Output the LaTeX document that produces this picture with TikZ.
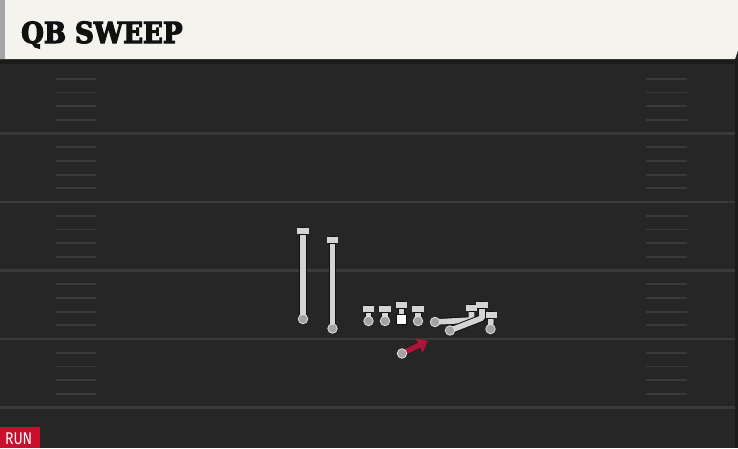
\documentclass[tikz,border=0pt]{standalone}
\usepackage{fontspec}
\usetikzlibrary{arrows.meta}
\newfontfamily\titlefont{DejaVu Serif Condensed Bold}[FakeBold=4]
\newfontfamily\tagfont{Fira Sans}
\definecolor{paper}{HTML}{F5F3EE}
\definecolor{turf}{HTML}{262626}
\definecolor{turfedge}{HTML}{1B1B1B}
\definecolor{yardline}{HTML}{3A3A3A}
\definecolor{playergray}{HTML}{D4D4D4}
\definecolor{dotgray}{HTML}{A2A2A2}
\definecolor{outline}{HTML}{111111}
\definecolor{runred}{HTML}{A8173A}
\definecolor{tagred}{HTML}{C8102E}
\tikzset{
  yard/.style={draw=yardline,line width=2.2pt},
  hash/.style={draw=yardline,line width=1.8pt},
  route/.style={draw=playergray,line width=5.6pt,line join=round,
    preaction={draw=outline,line width=7.6pt}},
  bar/.style={route,line cap=rect},
  dot/.style={circle,fill=dotgray,draw=playergray!70,line width=0.8pt,minimum size=9.5pt,inner sep=0pt},
  ball/.style={rectangle,fill=white,draw=outline,line width=0.8pt,minimum size=10pt,inner sep=0pt},
  runpath/.style={draw=runred,line width=5.6pt,-{Triangle[length=10pt,width=16pt]},
    preaction={draw=outline,line width=6.6pt,-{Triangle[length=10pt,width=16pt]}}}
}
\newcommand{\tbar}[1]{\draw[bar] ([xshift=-3pt]#1) -- ([xshift=3pt]#1);}
\begin{document}
\begin{tikzpicture}[x=1pt,y=-1pt]
  \useasboundingbox (0,0) rectangle (738,448);
  % field and header
  \fill[turf] (0,0) rectangle (738,448);
  \fill[turfedge] (0,58) rectangle (738,64);
  \fill[turfedge] (735,58) rectangle (738,448);
  \fill[paper] (0,0) -- (738,0) -- (738,50) -- (735,59) -- (0,59) -- cycle;
  \fill[gray!70] (0,0) rectangle (5,59);
  \node[anchor=base west,inner sep=0pt,text=outline,font=\titlefont\fontsize{29}{29}\selectfont] (title) at (21,43) {QB SWEEP};

  % yard lines and hashes
  \foreach \y in {133.5,202,270.5,339,407.5}
    \draw[yard] (0,\y) -- (735,\y);
  \foreach \k in {0,...,4}
    \foreach \j in {1,...,4} {
      \draw[hash] (56,65+68.5*\k+13.7*\j) -- (96,65+68.5*\k+13.7*\j);
      \draw[hash] (646,65+68.5*\k+13.7*\j) -- (687,65+68.5*\k+13.7*\j);
    }

  % receivers
  \coordinate (wrlt) at (303,231);
  \coordinate (wrlp) at (303,319);
  \coordinate (wrst) at (332.5,240);
  \coordinate (wrsp) at (332.5,328.5);
  \draw[route] (wrlp) -- (wrlt);
  \draw[route] (wrsp) -- (wrst);
  \tbar{wrlt}
  \tbar{wrst}
  \node[dot] (wrl) at (wrlp) {};
  \node[dot] (wrs) at (wrsp) {};

  % line
  \foreach \name/\x in {lt/368.5,lg/385,rg/418} {
    \coordinate (\name t) at (\x,309);
    \coordinate (\name p) at (\x,321);
    \draw[route] (\name p) -- (\name t);
    \tbar{\name t}
    \node[dot] (\name) at (\name p) {};
  }
  \coordinate (ct) at (401.5,305);
  \coordinate (cp) at (401.5,319.5);
  \draw[route] (cp) -- (ct);
  \tbar{ct}
  \node[ball] (c) at (cp) {};

  % tight end and motion
  \coordinate (tet) at (491,315);
  \coordinate (tep) at (490.5,329);
  \draw[route] (tep) -- (tet);
  \tbar{tet}
  \node[dot] (te) at (tep) {};

  \coordinate (mat) at (471.5,308);
  \coordinate (mav) at (471.5,320);
  \coordinate (map) at (435,322);
  \coordinate (mbt) at (482,305);
  \coordinate (mbv) at (482,318);
  \coordinate (mbp) at (450,330.5);
  \draw[route] (map) -- (mav) -- (mat);
  \draw[route] (mbp) -- (mbv) -- (mbt);
  \tbar{mat}
  \tbar{mbt}
  \node[dot] (ma) at (map) {};
  \node[dot] (mb) at (mbp) {};

  % quarterback run
  \coordinate (qbp) at (402,353.5);
  \coordinate (qbend) at (428,341);
  \draw[runpath] (qbp) -- (qbend);
  \node[dot] (qb) at (qbp) {};

  % play tag
  \fill[tagred] (0,427) rectangle (40,448);
  \node[anchor=base west,inner sep=0pt,text=white,font=\tagfont\fontsize{17}{17}\selectfont,xscale=0.82] (tag) at (5,444.5) {RUN};
\end{tikzpicture}
\end{document}
